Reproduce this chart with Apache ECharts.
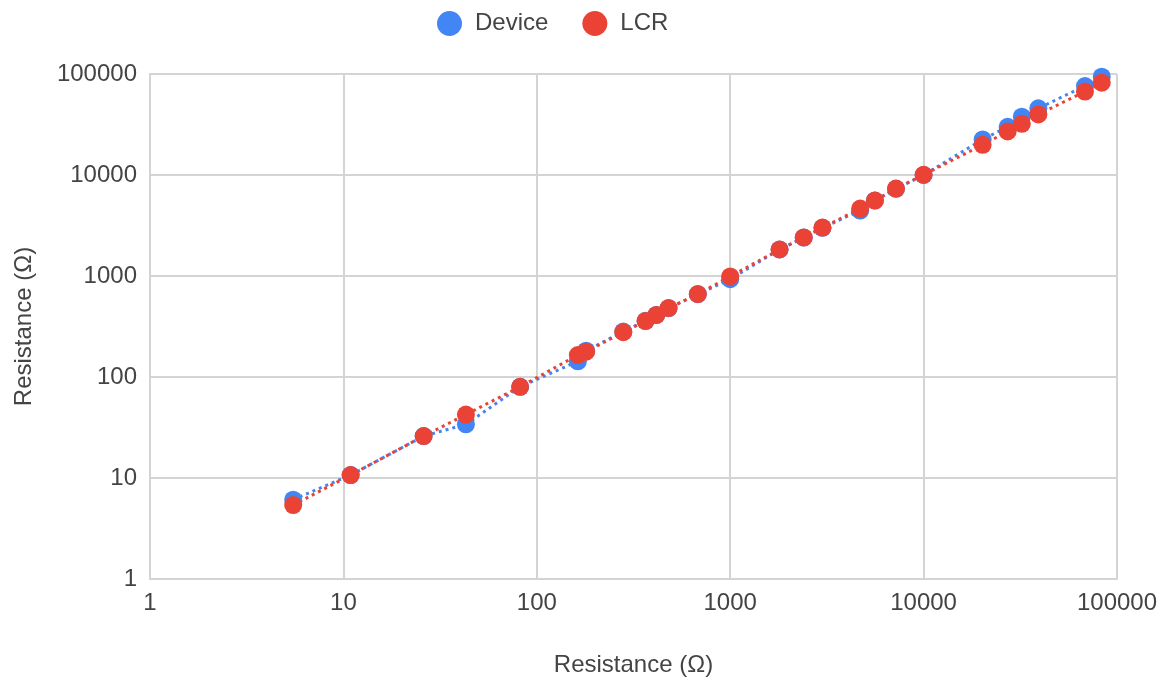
<!DOCTYPE html>
<html>
<head>
<meta charset="utf-8">
<script src="https://cdn.jsdelivr.net/npm/echarts@6/dist/echarts.min.js"></script>
<style>
  html, body { margin: 0; padding: 0; background: #fff; }
  #chart { width: 1170px; height: 682px; }
</style>
</head>
<body>
<div id="chart"></div>
<script>
// Nominal resistance of each test resistor (Ω)
const nominal = [5.5, 10.9, 26, 43, 82, 163, 180, 280, 365, 415, 480, 680, 1000, 1800, 2400, 3000, 4700, 5600, 7200, 10000, 20200, 27200, 32200, 39200, 68300, 83400];
// Reading from the device (Ω)
const deviceReadings = [6.1, 10.7, 26, 34, 80, 143, 182, 282, 360, 410, 480, 660, 930, 1830, 2400, 3000, 4450, 5600, 7300, 10000, 22500, 30000, 37800, 45800, 76000, 94000];
// Reading from the LCR meter (Ω)
const lcrReadings = [5.4, 10.7, 26, 42.5, 80, 165, 178, 278, 358, 412, 481, 662, 990, 1830, 2410, 3020, 4650, 5590, 7330, 10050, 19900, 27000, 32100, 39800, 67000, 82000];
const seriesNames = ['Device', 'LCR'];
const axisTitle = 'Resistance (Ω)';

const blue = '#4285F4';
const red = '#EA4335';
const textColor = '#444444';
const gridColor = '#d4d4d4';
const font = 'Liberation Sans, Arial, sans-serif';

function pairs(xs, ys) {
  return xs.map((x, i) => [x, ys[i]]);
}

function plainNumber(v) {
  return String(Math.round(v));
}

function logAxis(extra) {
  return Object.assign({
    type: 'log',
    logBase: 10,
    min: 1,
    max: 100000,
    name: axisTitle,
    nameLocation: 'middle',
    nameTextStyle: { color: textColor, fontSize: 24, fontFamily: font },
    axisLine: { show: true, lineStyle: { color: gridColor, width: 2 } },
    axisTick: { show: false },
    minorTick: { show: false },
    splitLine: { show: true, lineStyle: { color: gridColor, width: 2 } }
  }, extra);
}

function tickLabels(margin) {
  return { color: textColor, fontSize: 24, fontFamily: font, formatter: plainNumber, margin: margin, showMinLabel: true, showMaxLabel: true };
}

function lineSeries(name, color, values) {
  return {
    name: name,
    type: 'line',
    data: pairs(nominal, values),
    symbol: 'circle',
    symbolSize: 18,
    showSymbol: true,
    itemStyle: { color: color },
    lineStyle: { color: color, width: 3, type: [3, 4] },
    emphasis: { disabled: true },
    animation: false
  };
}

const chart = echarts.init(document.getElementById('chart'), null, { renderer: 'canvas' });
chart.setOption({
  backgroundColor: '#ffffff',
  animation: false,
  legend: {
    top: 6,
    left: 432,
    itemWidth: 25,
    itemHeight: 25,
    itemGap: 34,
    icon: 'circle',
    textStyle: { color: textColor, fontSize: 24, fontFamily: font, padding: [0, 0, 0, 8] },
    data: seriesNames
  },
  grid: { left: 150, right: 53, top: 74, bottom: 101, containLabel: false },
  xAxis: logAxis({ nameGap: 74, axisLabel: tickLabels(12) }),
  yAxis: logAxis({ nameGap: 114, nameRotate: 90, axisLabel: tickLabels(13) }),
  series: [
    lineSeries(seriesNames[0], blue, deviceReadings),
    lineSeries(seriesNames[1], red, lcrReadings)
  ]
});
</script>
</body>
</html>
